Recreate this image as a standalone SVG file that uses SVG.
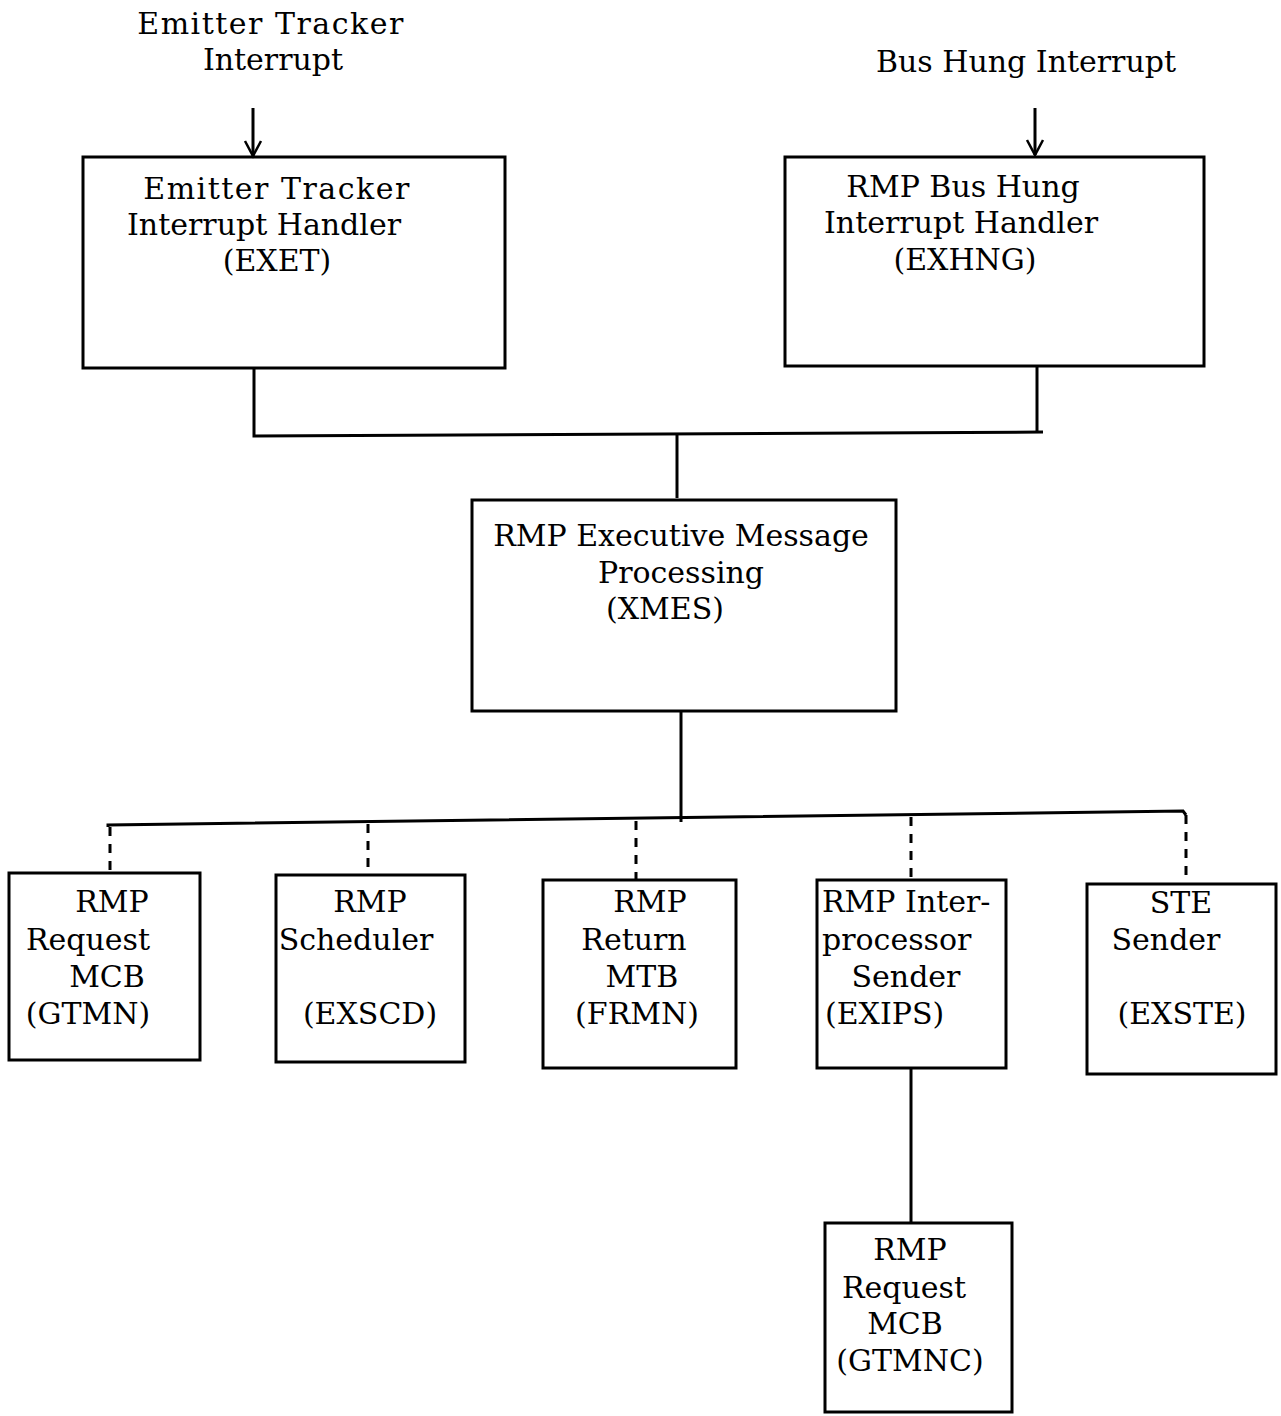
<svg xmlns="http://www.w3.org/2000/svg" width="1281" height="1416" viewBox="0 0 1281 1416">
<style>
.box{fill:none;stroke:#000;stroke-width:3}
.ln{fill:none;stroke:#000;stroke-width:3}
.ah{fill:none;stroke:#000;stroke-width:2.5;stroke-linejoin:miter}
.dash{fill:none;stroke:#000;stroke-width:3;stroke-dasharray:9,8}
text{font-family:"DejaVu Serif","Liberation Serif",serif;font-size:30px;fill:#000}
.m{text-anchor:middle}
</style>
<rect width="1281" height="1416" fill="#fff"/>
<g id="label-emitter">
<text class="m" x="271" y="34" letter-spacing="1.5">Emitter Tracker</text>
<text class="m" x="273" y="70">Interrupt</text>
</g>
<g id="label-bushung">
<text class="m" x="1026" y="72">Bus Hung Interrupt</text>
</g>
<g id="connectors">
<line class="ln" x1="253" y1="108" x2="253" y2="156"/>
<path class="ah" d="M245,141 L253,156 L261,141"/>
<line class="ln" x1="1035" y1="108" x2="1035" y2="155"/>
<path class="ah" d="M1027,140 L1035,155 L1043,140"/>
<polyline class="ln" points="254,368 254,436 1043,432"/>
<line class="ln" x1="1037" y1="366" x2="1037" y2="432"/>
<line class="ln" x1="677" y1="434" x2="677" y2="498"/>
<line class="ln" x1="681" y1="711" x2="681" y2="822"/>
<polyline class="ln" points="108,827 108,825 1183,811 1186,815"/>
<line class="dash" x1="110" y1="827" x2="110" y2="872"/>
<line class="dash" x1="368" y1="824" x2="368" y2="874"/>
<line class="dash" x1="636" y1="821" x2="636" y2="880"/>
<line class="dash" x1="911" y1="817" x2="911" y2="879"/>
<line class="dash" x1="1186" y1="815" x2="1186" y2="884"/>
<line class="ln" x1="911" y1="1068" x2="911" y2="1222"/>
</g>
<g id="EXET">
<rect class="box" x="83" y="157" width="422" height="211"/>
<text class="m" x="277" y="199" letter-spacing="1.5">Emitter Tracker</text>
<text class="m" x="264" y="235">Interrupt Handler</text>
<text class="m" x="277" y="271">(EXET)</text>
</g>
<g id="EXHNG">
<rect class="box" x="785" y="157" width="419" height="209"/>
<text class="m" x="963" y="197">RMP Bus Hung</text>
<text class="m" x="961" y="233">Interrupt Handler</text>
<text class="m" x="965" y="270">(EXHNG)</text>
</g>
<g id="XMES">
<rect class="box" x="472" y="500" width="424" height="211"/>
<text class="m" x="681" y="546">RMP Executive Message</text>
<text class="m" x="681" y="583">Processing</text>
<text class="m" x="665" y="619">(XMES)</text>
</g>
<g id="GTMN">
<rect class="box" x="9" y="873" width="191" height="187"/>
<text class="m" x="112" y="912">RMP</text>
<text class="m" x="88" y="950">Request</text>
<text class="m" x="107" y="987">MCB</text>
<text class="m" x="88" y="1024">(GTMN)</text>
</g>
<g id="EXSCD">
<rect class="box" x="276" y="875" width="189" height="187"/>
<text class="m" x="370" y="912">RMP</text>
<text class="m" x="356" y="950">Scheduler</text>
<text class="m" x="370" y="1024">(EXSCD)</text>
</g>
<g id="FRMN">
<rect class="box" x="543" y="880" width="193" height="188"/>
<text class="m" x="650" y="912">RMP</text>
<text class="m" x="634" y="950">Return</text>
<text class="m" x="642" y="987">MTB</text>
<text class="m" x="637" y="1024">(FRMN)</text>
</g>
<g id="EXIPS">
<rect class="box" x="817" y="880" width="189" height="188"/>
<text x="822" y="912">RMP Inter-</text>
<text x="822" y="950">processor</text>
<text class="m" x="906" y="987">Sender</text>
<text x="825" y="1024">(EXIPS)</text>
</g>
<g id="EXSTE">
<rect class="box" x="1087" y="884" width="189" height="190"/>
<text class="m" x="1181" y="913">STE</text>
<text class="m" x="1166" y="950">Sender</text>
<text class="m" x="1182" y="1024">(EXSTE)</text>
</g>
<g id="GTMNC">
<rect class="box" x="825" y="1223" width="187" height="189"/>
<text class="m" x="910" y="1260">RMP</text>
<text class="m" x="904" y="1298">Request</text>
<text class="m" x="905" y="1334">MCB</text>
<text class="m" x="910" y="1371">(GTMNC)</text>
</g>
</svg>
